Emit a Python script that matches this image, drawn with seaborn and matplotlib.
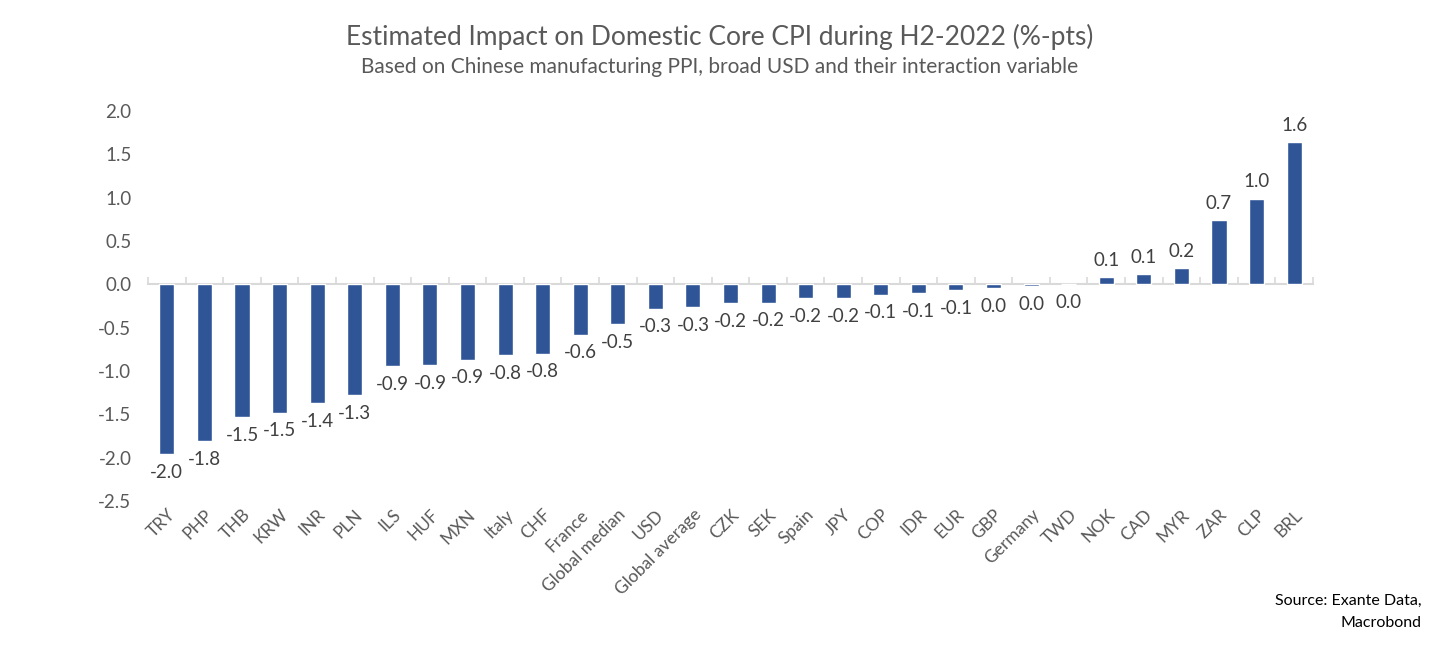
import matplotlib
matplotlib.use("Agg")
from matplotlib import pyplot as plt
from matplotlib.ticker import FixedLocator, NullFormatter
import seaborn as sns

# chart data
currencies = ["TRY", "PHP", "THB", "KRW", "INR", "PLN", "ILS", "HUF", "MXN", "Italy",
              "CHF", "France", "Global median", "USD", "Global average", "CZK", "SEK",
              "Spain", "JPY", "COP", "IDR", "EUR", "GBP", "Germany", "TWD", "NOK",
              "CAD", "MYR", "ZAR", "CLP", "BRL"]
impact = [-1.96, -1.81, -1.53, -1.48, -1.37, -1.28, -0.94, -0.93, -0.87, -0.82,
          -0.80, -0.58, -0.46, -0.28, -0.26, -0.22, -0.21, -0.16, -0.16, -0.12,
          -0.10, -0.07, -0.04, -0.02, 0.004, 0.08, 0.12, 0.19, 0.74, 0.99, 1.64]
y_ticks = [2.0, 1.5, 1.0, 0.5, 0.0, -0.5, -1.0, -1.5, -2.0, -2.5]

title = "Estimated Impact on Domestic Core CPI during H2-2022 (%-pts)"
subtitle = "Based on Chinese manufacturing PPI, broad USD and their interaction variable"
source = "Source: Exante Data,\nMacrobond"

BAR = "#2F5597"
GREY = "#595959"
LABEL = "#404040"
AXIS = "#D9D9D9"

sns.set_theme(style="white")
plt.rcParams["font.family"] = ["Lato", "DejaVu Sans"]

fig = plt.figure(figsize=(14.39, 6.53), dpi=100)
ax = fig.add_axes([0.1029, 0.2328, 0.8095, 0.5972])

sns.barplot(x=currencies, y=impact, color=BAR, saturation=1, width=0.4, ax=ax, zorder=3)

ymin, ymax = -2.5, 2.0
ax.set_ylim(ymin, ymax)
ax.set_xlim(-0.5, len(currencies) - 0.5)
ax.set_yticks(y_ticks)
ax.set_yticklabels([f"{t:.1f}" for t in y_ticks], fontsize=13.5, color=GREY)
ax.tick_params(axis="y", length=0, pad=12)
ax.tick_params(axis="x", length=0, pad=4)
ax.set_xticks(range(len(currencies)))
ax.set_xticklabels(currencies, rotation=45, ha="right", rotation_mode="anchor",
                   fontsize=12.5, color=GREY)
for s in ax.spines.values():
    s.set_visible(False)
ax.set_xlabel("")
ax.set_ylabel("")

# zero line with category separator ticks
zero_ax = ax.secondary_xaxis((0 - ymin) / (ymax - ymin))
for s in zero_ax.spines.values():
    s.set_color(AXIS)
    s.set_linewidth(1.5)
zero_ax.set_zorder(1)
zero_ax.xaxis.set_major_locator(FixedLocator([]))
zero_ax.xaxis.set_minor_locator(FixedLocator([i - 0.5 for i in range(len(currencies) + 1)]))
zero_ax.xaxis.set_minor_formatter(NullFormatter())
zero_ax.tick_params(axis="x", which="minor", length=5, width=1.2, color=AXIS, direction="out")

# value labels
for i, v in enumerate(impact):
    txt = f"{v:.1f}"
    if txt == "-0.0":
        txt = "0.0"
    if v >= 0.0 and txt != "0.0":
        ax.annotate(txt, (i, v), xytext=(0, 6), textcoords="offset points",
                    ha="center", va="bottom", fontsize=13.5, color=LABEL)
    else:
        ax.annotate(txt, (i, min(v, 0)), xytext=(0, -7), textcoords="offset points",
                    ha="center", va="top", fontsize=13.5, color=LABEL)

fig.text(0.5, 0.943, title, ha="center", va="center", fontsize=19, color=GREY)
fig.text(0.5, 0.898, subtitle, ha="center", va="center", fontsize=15, color=GREY)
fig.text(0.988, 0.035, source, ha="right", va="bottom", fontsize=11.5, color="#000000",
         linespacing=1.75)

fig.savefig("out.png", dpi=100)
